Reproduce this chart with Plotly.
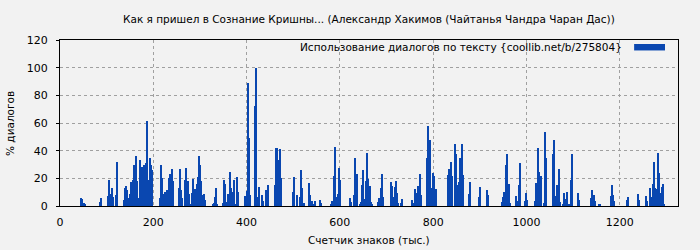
import plotly.graph_objects as go

title = "Как я пришел в Сознание Кришны... (Александр Хакимов (Чайтанья Чандра Чаран Дас))"
series_name = "Использование диалогов по тексту {coollib.net/b/275804}"
x_title = "Счетчик знаков (тыс.)"
y_title = "% диалогов"

x_vals = [
    44.4, 46.6, 50.9, 53, 85, 87.5,
    102.5, 104.7, 106.8, 109, 111, 113, 119.7, 122,
    137, 139, 141, 143.4, 145.5, 150, 152, 156, 158.5, 160.6, 162.8, 165, 167, 171.4, 173.5, 175.7,
    177.8, 180, 182, 184, 186.4, 188.6, 190.7, 193, 195, 197,
    214.3, 216.4, 218.6, 220.7, 222.8, 225, 227, 229, 233.5, 235.7, 237.8, 240, 242,
    255, 257, 259.3, 261.4, 268, 270, 272, 274, 276.4,
    280.7, 282.8, 285, 287, 289, 293.5, 295.7, 297.8, 300, 302, 304, 308.6, 310.7,
    327.8, 330, 332, 334, 336.4,
    349, 351.4, 353.5, 358, 360, 362, 364, 366.4, 368.6, 372.8, 375, 379, 381.4,
    396.4, 398.6, 400.7, 402.8, 405, 407,
    417.8, 420, 422, 424, 426.4, 432.8, 435, 441.4, 443.5, 445.7,
    460.7, 462.8, 465, 467, 469.3, 471.4, 473.5,
    499, 501.4, 508, 514, 516.4, 518.6, 522.8,
    533.5, 535.7, 537.8, 540, 544.3, 546.4, 557, 559.3,
    580.7, 582.8, 587, 589.3, 591.4, 593.5, 595.7, 597.8, 600,
    621.4, 623.5, 630, 632, 634.3, 636.4, 643, 645, 647, 649.3, 651.4, 655.7, 657.8, 660, 662, 664.3, 666.4, 668.6,
    681.4, 683.5, 687.8, 690, 692,
    709.3, 711.4, 715.7, 717.8, 720, 722, 724.3, 730.7, 732.8,
    754.3, 756.4, 760.7, 762.8, 765, 767, 769.3, 771.4, 773.5,
    786.4, 788.6, 790.7, 792.8, 795, 797, 799.3, 801.4, 803.5, 805.7,
    831.4, 833.5, 835.7, 837.8, 840, 846.4, 848.6, 850.7, 855, 857, 859.3, 861.4, 863.5,
    876.4, 878.6, 897.8, 900, 915, 917,
    947, 949.3, 951.4, 955.7, 957.8, 960, 962, 964.3,
    977, 979.3, 983.5, 985.7, 996.4, 998.6, 1000.7,
    1017.8, 1020, 1022, 1024.3, 1026.4, 1028.6, 1030.7, 1037, 1039.3, 1041.4,
    1056.4, 1058.6, 1060.7, 1062.8, 1065, 1067, 1069.3, 1071.4, 1077.8, 1080, 1082, 1084.3, 1086.4,
    1090.7, 1095, 1097, 1110, 1112,
    1137.8, 1140, 1144.3, 1146.4, 1155, 1157,
    1180.7, 1182.8, 1185, 1187, 1215, 1217, 1238.6, 1240.7,
    1255.7, 1257.8, 1264.3, 1266.4, 1270.7, 1273, 1275, 1277, 1279.3, 1281.4, 1283.5, 1285.7,
    1287.8, 1290, 1292, 1294.3,
]

y_vals = [
    6, 5, 2, 1, 3, 6,
    7.4, 18.6, 9, 3, 12.9, 6.7, 7.9, 32,
    4.5, 13, 14.5, 11.5, 6, 8.5, 17, 19, 29.5, 5, 36.5, 18, 5.5, 33, 25, 28,
    19, 29.5, 19, 31, 61.5, 11, 19, 35, 30, 26,
    6, 30, 20, 9, 4.5, 10, 4.5, 11.7, 20, 23, 10, 26.4, 18,
    13, 26.7, 11.7, 6, 18.8, 27.4, 13.8, 18, 8.8,
    1, 9.5, 19.5, 6, 12.4, 16, 21, 36, 30, 18, 8, 8.8, 4.5,
    1, 2.4, 6.7, 13, 1.7,
    2.4, 18.8, 16, 3, 8.8, 4.5, 24.5, 13, 10, 18.8, 1, 21, 10,
    7, 3.6, 10.8, 89, 49, 8,
    72.6, 100, 5.8, 6.5, 13.7, 8, 3.6, 11.5, 10.8, 15,
    15, 41.7, 41.7, 20.9, 33, 41, 20.4,
    10, 21, 8, 6.5, 26, 13, 2.2,
    16.5, 8, 1.4, 3.6, 1.4, 3.6, 4.3, 2.2,
    1.4, 3.6, 21.7, 43, 3, 6.4, 8.8, 27.4, 18.8,
    6, 3, 8, 35, 17.4, 23, 1.7, 3, 15, 26, 5.2, 18, 38, 19.5, 7.4, 14.5, 3, 1.7,
    3, 6, 13, 23, 6.7,
    17.4, 14.5, 6.7, 13.8, 18, 9.5, 2.4, 2.4, 5.2,
    4.5, 2.4, 12.4, 6, 9.5, 14.5, 9.5, 23, 8,
    34.5, 58, 47.4, 48, 13, 9.5, 23.8, 21.7, 6, 12.4,
    22.4, 26.7, 19.5, 31.7, 21.7, 45, 37.4, 15, 17.4, 35, 6, 44.5, 22.4,
    8.8, 17.4, 6.7, 13.8, 11.7, 8,
    3, 6.7, 10, 30, 37.4, 8, 16, 2.4,
    7.4, 3.8, 15, 31, 3.8, 9.5, 4.5,
    3.8, 16.7, 10, 41.7, 24.5, 17.4, 21.7, 2.4, 53.8, 35,
    37.4, 48, 1.7, 7.4, 15, 13, 26.7, 3, 1, 9.5, 4.5, 5.2, 10,
    1.7, 18.8, 37.4, 9.5, 4.5,
    6, 11.7, 8, 3.8, 1, 1.7,
    7.4, 15, 8, 3.8, 4.5, 6.7, 8.8, 4.5,
    7.4, 3.8, 13, 6.7, 16, 31.7, 13, 12.4, 11, 38, 23.8, 9.5,
    8.8, 13.8, 16, 1,
]

x_ticks = [0, 200, 400, 600, 800, 1000, 1200]
y_ticks = [0, 20, 40, 60, 80, 100, 120]

bar_color = "#0a47b0"
bg = "#f2f2f2"
font_family = "DejaVu Sans"

fig = go.Figure()
fig.add_trace(go.Bar(
    x=x_vals, y=y_vals, width=2.2, name=series_name,
    marker=dict(color=bar_color, line=dict(width=0)),
    showlegend=False,
))

fig.update_layout(
    width=700, height=250,
    margin=dict(l=60, r=22, t=40, b=44, autoexpand=False),
    paper_bgcolor=bg, plot_bgcolor=bg,
    font=dict(family=font_family, size=10.5, color="#000000"),
    bargap=0,
    title=dict(text=title, x=0.527, xanchor="center", y=0.924, yanchor="middle",
               font=dict(family=font_family, size=10.5, color="#000000")),
    showlegend=False,
)

fig.update_xaxes(
    range=[0, 1325], tickvals=x_ticks, ticktext=[str(v) for v in x_ticks],
    showline=True, linecolor="#000000", linewidth=1, mirror=True,
    showgrid=True, gridcolor="#a0a0a0", griddash="dot", gridwidth=1,
    zeroline=False, ticks="", ticklabelstandoff=6, automargin=False,
    tickfont=dict(size=11),
)
fig.update_yaxes(
    range=[0, 120], tickvals=y_ticks, ticktext=[str(v) for v in y_ticks],
    showline=True, linecolor="#000000", linewidth=1, mirror=True,
    showgrid=True, gridcolor="#a0a0a0", griddash="dot", gridwidth=1,
    zeroline=False, ticks="outside", ticklen=3, tickcolor="#000000",
    ticklabelstandoff=6, automargin=False,
    tickfont=dict(size=11),
)

# axis titles
fig.add_annotation(
    text=x_title, xref="paper", yref="paper", x=0.5, y=-0.205,
    xanchor="center", yanchor="middle", showarrow=False,
    font=dict(family=font_family, size=10.5, color="#000000"),
)
fig.add_annotation(
    text=y_title, xref="paper", yref="paper", x=-0.081, y=0.5,
    xanchor="center", yanchor="middle", showarrow=False, textangle=-90,
    font=dict(family=font_family, size=10.5, color="#000000"),
)

# legend drawn gnuplot-style: text then colour key on the right
fig.add_annotation(
    text=series_name, xref="paper", yref="paper", x=0.9126, y=0.958,
    xanchor="right", yanchor="middle", showarrow=False,
    font=dict(family=font_family, size=10.5, color="#000000"),
)
fig.add_shape(
    type="rect", xref="paper", yref="paper",
    x0=0.929, x1=0.979, y0=0.937, y1=0.976,
    fillcolor=bar_color, line=dict(width=0),
)

fig.write_html("out.html")
